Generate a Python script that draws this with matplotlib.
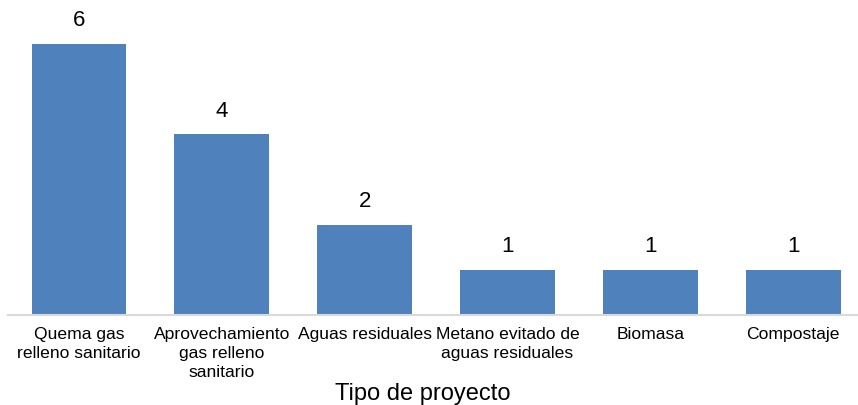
import matplotlib
matplotlib.use("Agg")
import matplotlib.pyplot as plt

categorias = ["Quema gas\nrelleno sanitario",
              "Aprovechamiento\ngas relleno\nsanitario",
              "Aguas residuales",
              "Metano evitado de\naguas residuales",
              "Biomasa",
              "Compostaje"]
proyectos = [6, 4, 2, 1, 1, 1]

plt.rcParams['font.family'] = ['Liberation Sans', 'DejaVu Sans']

fig = plt.figure(figsize=(8.58, 4.05), dpi=100)
ax = fig.add_axes([7.6 / 858, 90 / 405, 849.7 / 858, 315 / 405])

x = list(range(len(categorias)))
barras = ax.bar(x, proyectos, width=0.665, color='#4F81BD')

for b, v in zip(barras, proyectos):
    ax.annotate(str(v), (b.get_x() + b.get_width() / 2, v),
                xytext=(0, 9), textcoords='offset points',
                ha='center', va='bottom', fontsize=16, color='black')

ax.set_xlim(-0.5, 5.45)
ax.set_ylim(0, 6.97)
ax.set_xticks(x)
ax.set_xticklabels(categorias, fontsize=12.6, linespacing=1.35)
ax.tick_params(axis='x', length=0, pad=8.5)
ax.set_yticks([])
for s in ['top', 'right', 'left']:
    ax.spines[s].set_visible(False)
ax.spines['bottom'].set_color('#D9D9D9')
ax.spines['bottom'].set_linewidth(1.5)
ax.patch.set_alpha(0)

fig.text(422.5 / 858, 1 - 400 / 405, "Tipo de proyecto", ha='center',
         va='baseline', fontsize=17)

fig.savefig('out.png', dpi=100, facecolor='white')
